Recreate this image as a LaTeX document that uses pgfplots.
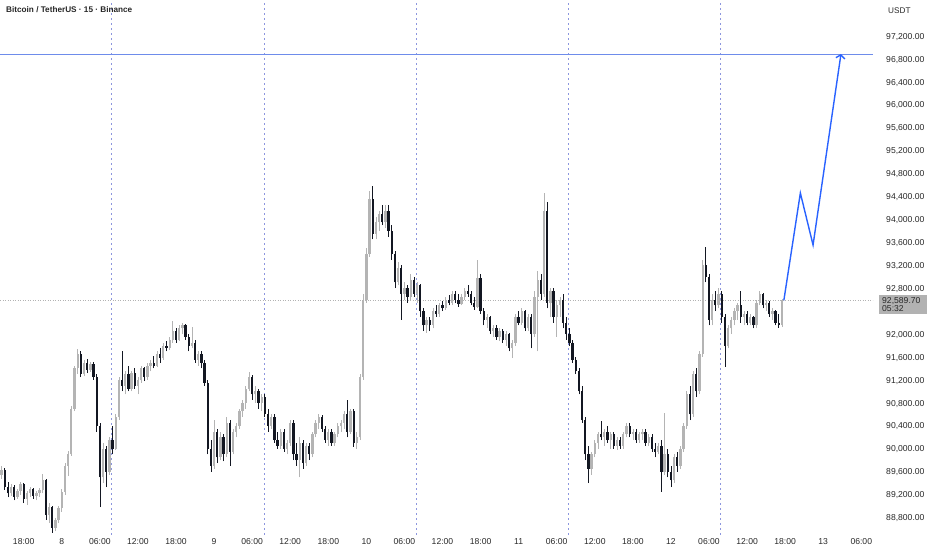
\documentclass[border=0pt]{standalone}
\usepackage{pgfplots}
\pgfplotsset{compat=1.18}
\usepackage{pgfplotstable}
\usepackage{fontspec}
\setmainfont{Liberation Sans}
\usetikzlibrary{arrows.meta}
\definecolor{upc}{RGB}{180,180,180}
\definecolor{dnc}{RGB}{19,23,34}
\definecolor{sess}{RGB}{140,150,222}
\definecolor{hlinec}{RGB}{110,140,235}
\definecolor{arrowc}{RGB}{41,98,255}
\definecolor{txt}{RGB}{40,40,40}
\definecolor{pbox}{RGB}{178,178,178}

\pgfplotstableread{
t o h l c
-9.5 89550 89700 89480 89620
-8.0 89220 89380 89180 89340
-7.0 89160 89300 89120 89270
-6.5 89270 89420 89200 89380
-5.5 89120 89260 89020 89220
-5.0 89220 89330 89150 89290
-4.0 89180 89260 89100 89230
-3.5 89230 89320 89160 89280
-3.0 89280 89560 89220 89450
-2.0 88850 89050 88700 88980
-1.0 88620 88800 88560 88750
-0.5 88750 89000 88700 88960
0.0 88960 89300 88900 89250
0.5 89250 89750 89200 89700
1.0 89700 89960 89520 89900
1.5 89900 90750 89880 90700
2.0 90700 91450 90650 91400
2.5 91400 91740 91300 91650
3.5 91300 91550 91260 91500
4.5 91380 91520 91340 91480
6.5 89500 90100 89400 90000
7.5 89600 90200 89550 90150
8.5 90000 90600 89980 90550
9.0 90550 91250 90500 91200
10.0 91100 91350 90950 91300
11.0 91050 91350 91000 91320
12.0 91100 91250 90950 91200
12.5 91200 91450 91150 91400
13.5 91250 91500 91200 91450
14.0 91450 91550 91350 91500
15.0 91450 91700 91420 91650
16.0 91580 91850 91550 91800
17.0 91760 91950 91720 91900
17.5 91900 92230 91850 92050
18.5 91900 92150 91880 92100
19.0 92100 92200 92000 92150
20.5 91800 92120 91750 91850
21.5 91550 91700 91450 91650
24.0 89700 90500 89650 90300
25.0 89850 90300 89800 90200
26.0 89900 90550 89850 90450
27.0 89950 90350 89900 90300
27.5 90300 90450 90200 90400
28.0 90400 90700 90350 90650
28.5 90650 90850 90550 90800
29.0 90800 91100 90700 91050
29.5 91050 91340 91000 91250
30.5 90950 91100 90800 91000
31.5 90800 90950 90650 90900
33.0 90400 90600 90350 90550
34.5 90050 90350 90000 90300
35.5 90000 90150 89900 90100
36.0 90100 90500 90050 90450
37.5 89800 90200 89500 90100
38.5 89750 90100 89700 90050
39.5 89900 90300 89850 90250
40.0 90250 90500 90200 90450
40.5 90450 90600 90350 90550
42.0 90150 90350 90050 90300
43.0 90100 90300 90050 90250
43.5 90250 90450 90200 90400
44.0 90400 90500 90300 90450
44.5 90450 90650 90350 90600
45.5 90300 90700 90250 90650
46.5 90100 90300 90000 90200
47.0 90200 91300 90150 91250
47.5 91250 92700 91200 92600
48.0 92600 93500 92550 93400
48.5 93400 94500 93350 94350
49.5 93750 94050 93650 93950
50.0 93950 94150 93800 94100
51.0 93950 94250 93850 94150
53.0 92900 93250 92850 93150
54.0 92700 92900 92600 92800
55.0 92650 93050 92600 92950
56.0 92700 92900 92550 92850
57.5 92150 92300 92020 92250
58.5 92150 92450 92100 92400
59.5 92350 92550 92300 92500
60.5 92450 92650 92420 92600
61.5 92550 92750 92500 92700
63.0 92520 92700 92500 92650
63.5 92650 92800 92600 92750
65.5 92480 93290 92450 92980
67.0 92250 92350 92100 92300
68.0 92050 92150 91950 92100
69.0 91950 92100 91880 92050
70.0 91900 92050 91800 92000
71.0 91750 91900 91580 91850
71.5 91850 92350 91800 92300
72.5 92200 92450 92150 92400
73.5 92100 92350 92050 92300
74.5 92000 92750 91950 92650
75.0 92650 93100 91700 92950
76.0 92700 94460 92650 94150
77.0 92550 92800 92300 92750
78.0 92300 92600 91950 92500
78.5 92500 92650 92300 92600
83.5 89650 89950 89550 89900
84.0 89900 90150 89850 90100
84.5 90100 90300 90000 90250
85.5 90200 90350 90050 90300
86.5 90150 90300 90000 90250
87.5 90050 90200 89980 90150
88.5 90050 90300 90000 90250
89.0 90250 90450 90200 90400
90.0 90250 90350 90150 90300
91.0 90150 90300 90100 90250
91.5 90250 90350 90150 90300
92.5 90100 90250 90050 90200
94.0 89950 90100 89900 90050
95.0 89600 90620 89550 89900
96.5 89450 89900 89400 89850
97.5 89700 90050 89650 90000
98.0 90000 90450 89950 90400
98.5 90400 91000 90350 90950
99.5 90600 91350 90550 91300
100.5 91000 91700 90950 91650
101.0 91650 93300 91600 93200
102.5 92250 92700 92150 92600
103.5 92500 92800 92450 92700
105.0 91800 92150 91750 92100
105.5 92100 92300 92000 92250
106.0 92250 92450 92150 92400
106.5 92400 92550 92250 92500
107.5 92300 92400 92150 92350
108.5 92200 92350 92150 92300
109.5 92150 92600 92100 92550
110.0 92550 92750 92500 92700
111.0 92500 92600 92400 92550
112.0 92350 92450 92250 92400
113.5 92150 92620 92120 92589.7
}\up

\pgfplotstableread{
t o h l c
-9.0 89620 89660 89280 89330
-8.5 89330 89420 89150 89220
-7.5 89340 89360 89100 89160
-6.0 89380 89400 89050 89120
-4.5 89290 89320 89120 89180
-2.5 89450 89480 88760 88850
-1.5 88980 89000 88530 88620
3.0 91650 91700 91250 91300
4.0 91500 91560 91320 91380
5.0 91480 91520 91200 91250
5.5 91250 91300 90300 90400
6.0 90400 90450 88980 89500
7.0 90000 90050 89330 89600
8.0 90150 90400 89900 90000
9.5 91200 91700 91000 91100
10.5 91300 91450 91000 91050
11.5 91320 91400 91050 91100
13.0 91400 91420 91180 91250
14.5 91500 91620 91400 91450
15.5 91650 91750 91500 91580
16.5 91800 91880 91700 91760
18.0 92050 92100 91850 91900
19.5 92150 92180 91900 91950
20.0 91950 92000 91700 91800
21.0 91850 91900 91500 91550
22.0 91650 91700 91400 91500
22.5 91500 91550 91100 91150
23.0 91150 91200 89900 90000
23.5 90000 90150 89600 89700
24.5 90300 90350 89750 89850
25.5 90200 90250 89780 89900
26.5 90450 90500 89700 89950
30.0 91250 91280 90850 90950
31.0 91000 91050 90700 90800
32.0 90900 90950 90550 90600
32.5 90600 90700 90300 90400
33.5 90550 90600 90100 90150
34.0 90150 90300 90000 90050
35.0 90300 90350 89950 90000
36.5 90450 90500 89800 89900
37.0 89900 90100 89700 89800
38.0 90100 90150 89650 89750
39.0 90050 90100 89800 89900
41.0 90550 90580 90300 90350
41.5 90350 90400 90100 90150
42.5 90300 90350 90050 90100
45.0 90600 90850 90200 90300
46.0 90650 90700 90030 90100
49.0 94350 94580 93650 93750
50.5 94100 94250 93900 93950
51.5 94150 94250 93700 93800
52.0 93800 93900 93300 93400
52.5 93400 93450 92800 92900
53.5 93150 93200 92250 92700
54.5 92800 92850 92550 92650
55.5 92950 93000 92650 92700
56.5 92850 92880 92300 92400
57.0 92400 92450 92050 92150
58.0 92250 92300 92050 92150
59.0 92400 92500 92300 92350
60.0 92500 92580 92400 92450
61.0 92600 92680 92500 92550
62.0 92700 92750 92550 92600
62.5 92600 92700 92480 92520
64.0 92750 92850 92650 92700
64.5 92700 92750 92500 92550
65.0 92550 92650 92420 92480
66.0 92980 93050 92350 92400
66.5 92400 92450 92150 92250
67.5 92300 92320 92000 92050
68.5 92100 92150 91900 91950
69.5 92050 92080 91850 91900
70.5 92000 92020 91700 91750
72.0 92300 92400 92150 92200
73.0 92400 92420 92050 92100
74.0 92300 92350 91750 92000
75.5 92950 93050 92600 92700
76.5 94150 94300 92450 92550
77.5 92750 92800 92200 92300
79.0 92600 92700 92100 92200
79.5 92200 92300 91900 92000
80.0 92000 92100 91800 91850
80.5 91850 91900 91500 91550
81.0 91550 91600 91300 91350
81.5 91350 91400 90950 91000
82.0 91000 91100 90450 90500
82.5 90500 90550 89800 89900
83.0 89900 90050 89400 89650
85.0 90250 90480 90150 90200
86.0 90300 90400 90100 90150
87.0 90250 90300 90000 90050
88.0 90150 90200 90000 90050
89.5 90400 90450 90200 90250
90.5 90300 90350 90100 90150
92.0 90300 90350 90050 90100
93.0 90200 90250 89950 90000
93.5 90000 90100 89850 89950
94.5 90050 90150 89250 89600
95.5 89900 90000 89500 89600
96.0 89600 89700 89330 89450
97.0 89850 89950 89600 89700
99.0 90950 91100 90500 90600
100.0 91300 91400 90900 91000
101.5 93200 93520 92900 93000
102.0 93000 93050 92150 92250
103.0 92600 92750 92400 92500
104.0 92700 92750 92200 92300
104.5 92300 92350 91430 91800
107.0 92500 92750 92200 92300
108.0 92350 92400 92150 92200
109.0 92300 92320 92100 92150
110.5 92700 92720 92450 92500
111.5 92550 92580 92300 92350
112.5 92400 92420 92150 92200
113.0 92200 92350 92110 92150
}\dn

\begin{document}
\begin{tikzpicture}[x=1bp,y=1bp]
\useasboundingbox (0,0) rectangle (932,550);
\begin{axis}[
  at={(0bp,550bp)}, anchor=north west,
  width=873bp, height=535bp, scale only axis,
  xmin=-9.74, xmax=127.85, ymin=88495, ymax=97828,
  axis line style={draw=none},
  major tick length=0pt,
  scaled y ticks=false,
  xtick={-6,0,...,126},
  xticklabels={18:00,8,06:00,12:00,18:00,9,06:00,12:00,18:00,10,06:00,12:00,18:00,11,06:00,12:00,18:00,12,06:00,12:00,18:00,13,06:00},
  ytick={88800,89200,89600,90000,90400,90800,91200,91600,92000,92800,93200,93600,94000,94400,94800,95200,95600,96000,96400,96800,97200},
  yticklabel pos=right,
  /pgf/number format/.cd, fixed, fixed zerofill, precision=2, 1000 sep={,}, assume math mode=true,
  /pgfplots/.cd,
  yticklabel style={anchor=base west, inner sep=0pt, xshift=13bp, yshift=-3.2bp, font=\fontsize{8.6bp}{10bp}\selectfont, text=txt},
  xticklabel style={anchor=base, inner sep=0pt, yshift=-10bp, font=\fontsize{8.6bp}{10bp}\selectfont, text=txt},
  clip=true,
]
% session breaks
\pgfplotsinvokeforeach{7.85,31.85,55.85,79.85,103.85}{
  \draw[sess, line width=0.55bp, dash pattern=on 2.2bp off 2.8bp] (axis cs:#1,88495) -- (axis cs:#1,97828);
}
% last price line
\draw[black!30, line width=0.6bp, dash pattern=on 1bp off 1.5bp] (axis cs:-9.74,92589.7) -- (axis cs:127.85,92589.7);
% horizontal target line
\draw[hlinec, line width=0.8bp] (axis cs:-9.74,96880) -- (axis cs:127.85,96880);

% up candles
\addplot[draw=none, mark=none, forget plot, error bars/.cd, y dir=plus, y explicit, error mark=none, error bar style={draw=upc, line width=0.7bp, solid}]
  table[x=t, y=l, y error expr=\thisrow{h}-\thisrow{l}] {\up};
\addplot[draw=none, mark=none, forget plot, error bars/.cd, y dir=plus, y explicit, error mark=none, error bar style={draw=upc, line width=2.3bp, solid}]
  table[x=t, y=o, y error expr=\thisrow{c}-\thisrow{o}] {\up};
% down candles
\addplot[draw=none, mark=none, forget plot, error bars/.cd, y dir=plus, y explicit, error mark=none, error bar style={draw=dnc, line width=0.7bp, solid}]
  table[x=t, y=l, y error expr=\thisrow{h}-\thisrow{l}] {\dn};
\addplot[draw=none, mark=none, forget plot, error bars/.cd, y dir=plus, y explicit, error mark=none, error bar style={draw=dnc, line width=2.3bp, solid}]
  table[x=t, y=c, y error expr=\thisrow{o}-\thisrow{c}] {\dn};

% projected path
\addplot[arrowc, line width=1.4bp, mark=none, -{Straight Barb[length=3.5bp, width=9bp, line width=1.4bp]}]
  coordinates {(113.8,92589.7) (116.4,94460) (118.4,93554) (122.8,96886)};
\end{axis}
% title and scale texts
\node[anchor=base west, inner sep=0pt, font=\bfseries\fontsize{8.2bp}{10bp}\selectfont, text=black!85] at (6,537.8) {Bitcoin / TetherUS · 15 · Binance};
\node[anchor=base west, inner sep=0pt, font=\fontsize{8.2bp}{10bp}\selectfont, text=txt] at (888,536.8) {USDT};
\fill[pbox] (879,236) rectangle (927,254.5);
\node[anchor=base west, inner sep=0pt, font=\fontsize{8.6bp}{10bp}\selectfont, text=txt] at (882,246.3) {92,589.70};
\node[anchor=base west, inner sep=0pt, font=\fontsize{8.6bp}{10bp}\selectfont, text=txt] at (882,238.7) {05:32};
\end{tikzpicture}
\end{document}
